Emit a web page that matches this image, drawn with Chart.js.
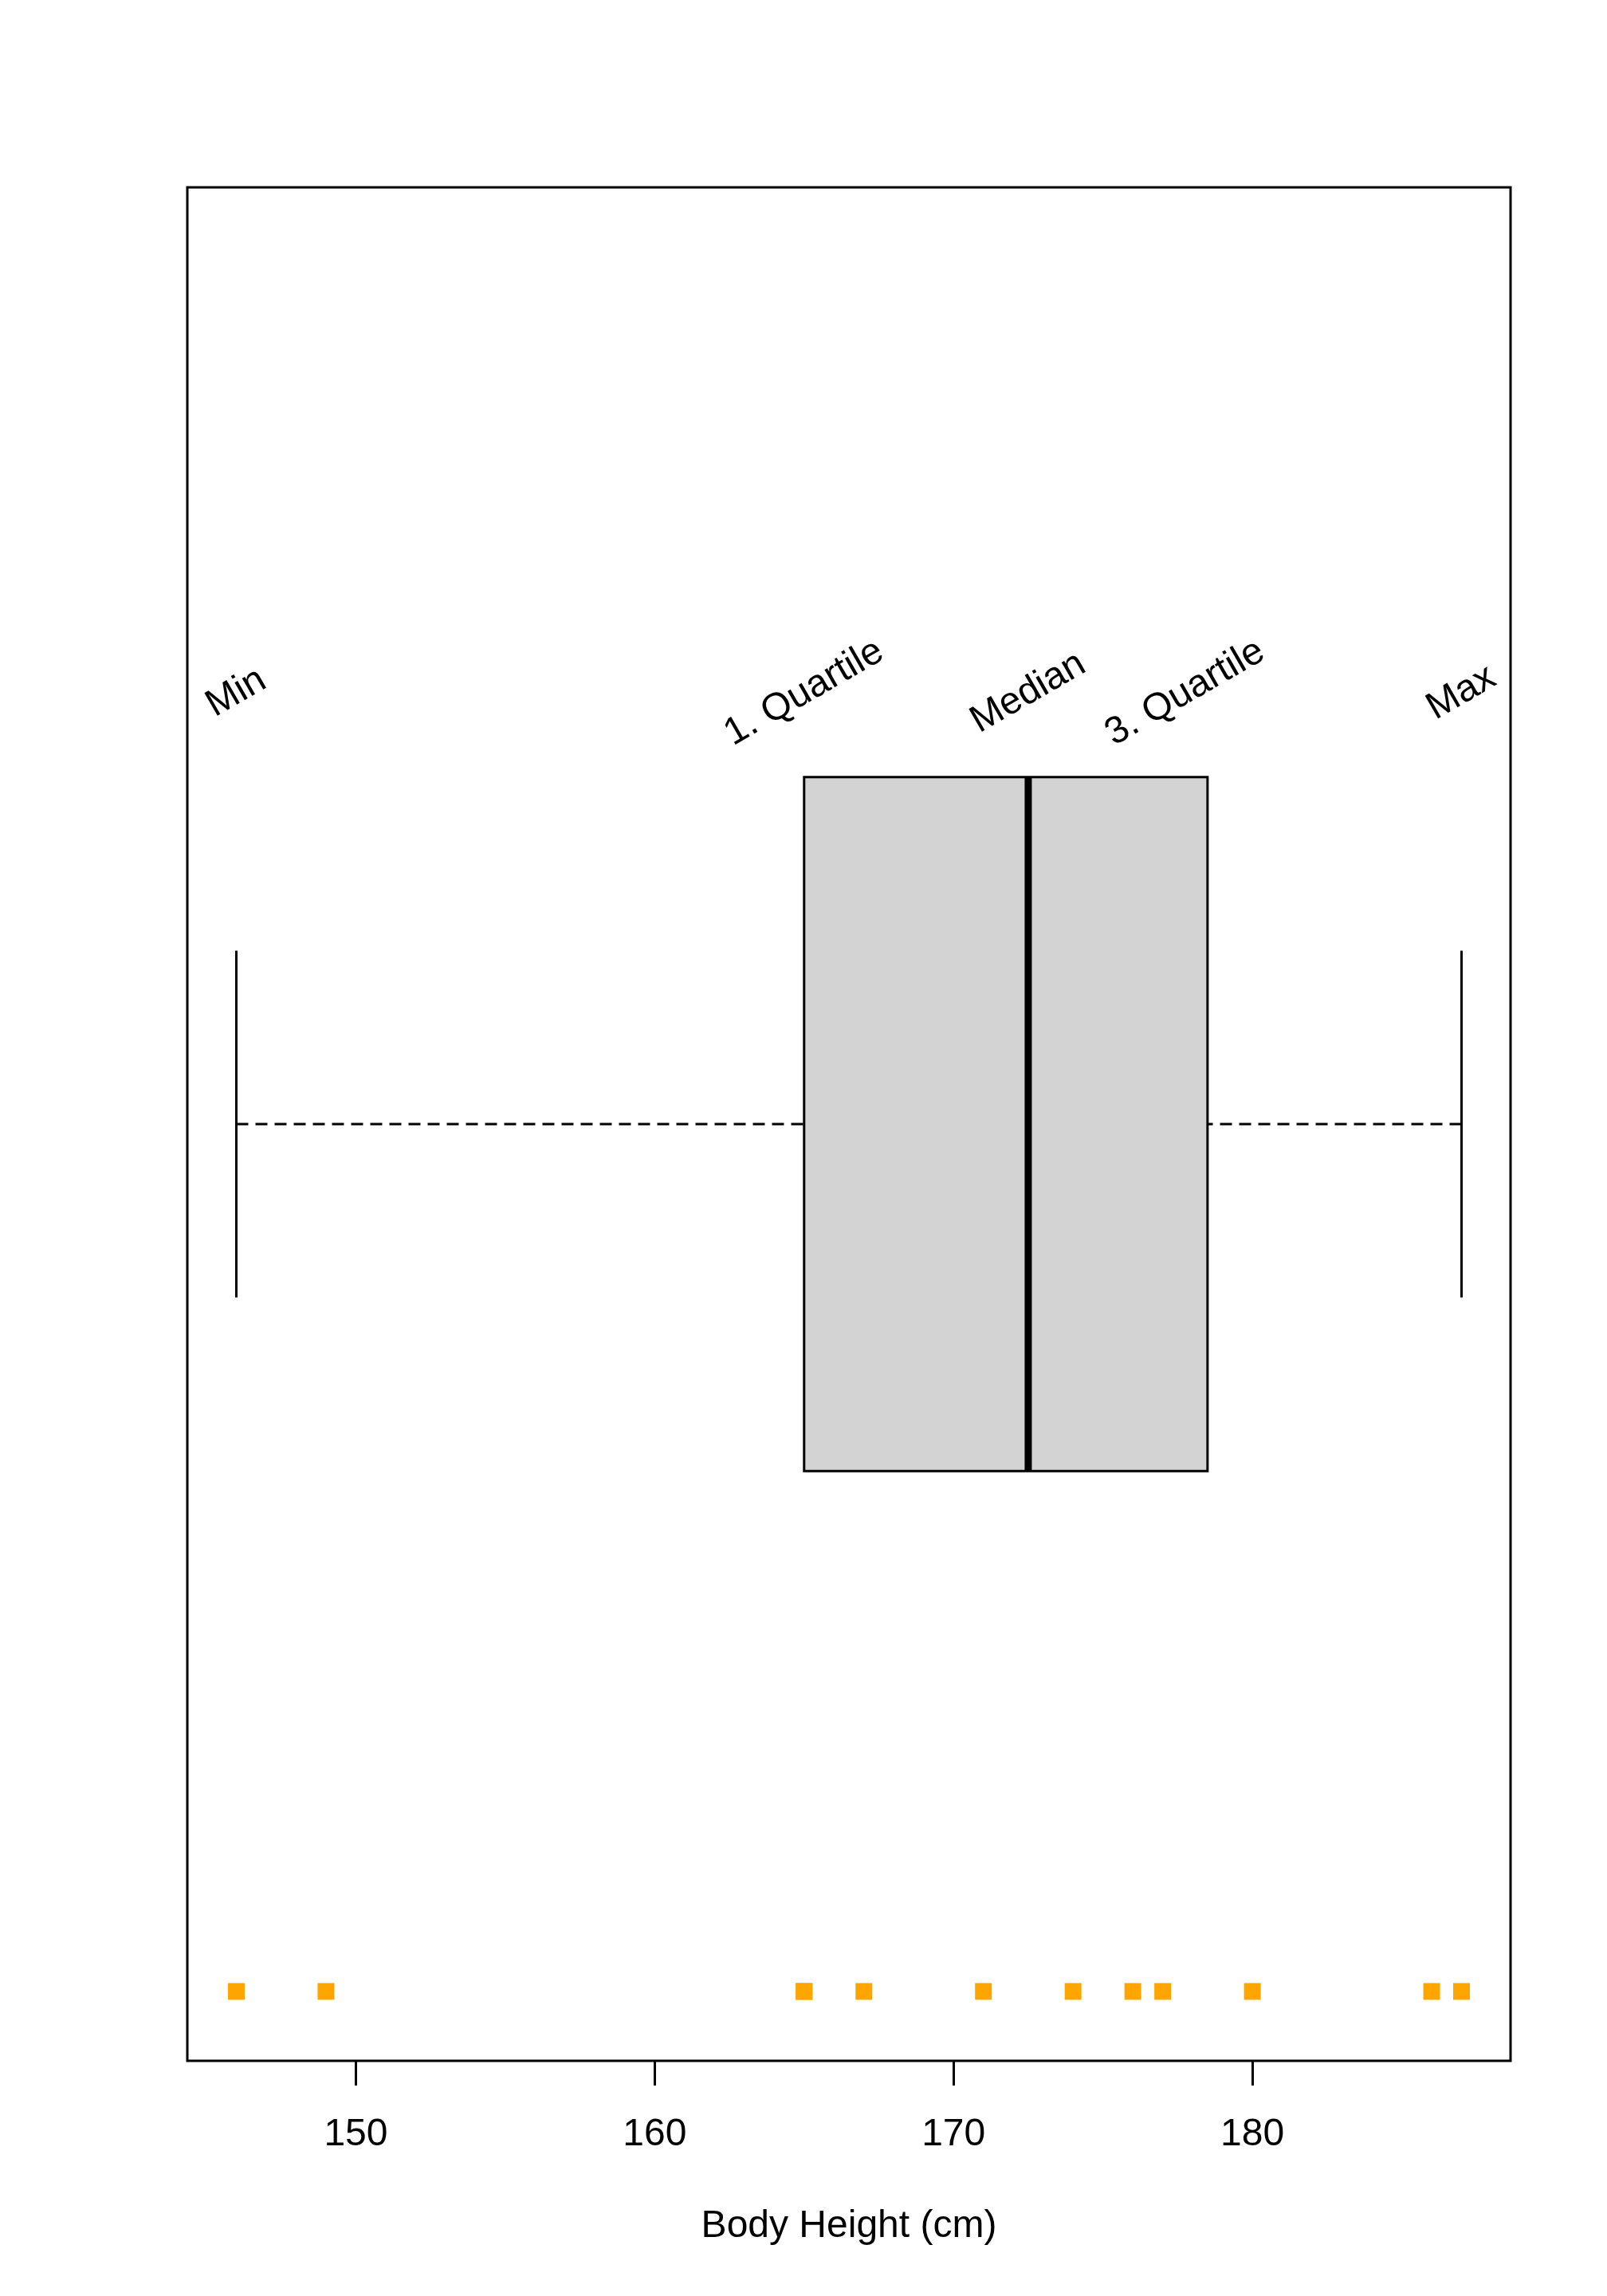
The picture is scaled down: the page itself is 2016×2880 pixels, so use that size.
<!DOCTYPE html>
<html><head><meta charset="utf-8">
<script src="https://cdn.jsdelivr.net/npm/chart.js@4/dist/chart.umd.min.js"></script>
<style>html,body{margin:0;padding:0;background:#fff}canvas{display:block}</style>
</head><body>
<canvas id="c" width="2016" height="2880" style="width:2016px;height:2880px"></canvas>
<script>
// ---- data ----
const heights = [146, 149, 165, 165, 167, 171, 174, 176, 177, 180, 186, 187];
const boxValues = [146, 165, 172.5, 178.5, 187]; // min, lower hinge, median, upper hinge, max
const statNames = ['Min', '1. Quartile', 'Median', '3. Quartile', 'Max'];
const statLabelValues = [146, 165, 172.5, 177.75, 187];
const xTicks = [150, 160, 170, 180];
const xTitle = 'Body Height (cm)';

// ---- layout constants (positions on the value axis) ----
const BOX_Y = 1, BOX_HALF = 0.4, CAP_HALF = 0.2, STRIP_Y = 0, LABEL_Y = 1.5;
const FONT = "'Liberation Sans', Arial, Helvetica, sans-serif";

const lineDs = (data, extra) => Object.assign({
  data, showLine: true, pointRadius: 0, borderColor: '#000', borderWidth: 3,
  borderCapStyle: 'butt', fill: false, tension: 0
}, extra);

const datasets = [
  { data: heights.map(v => ({ x: v, y: STRIP_Y })), pointStyle: 'rect', pointRadius: 14.85,
    backgroundColor: '#FFA500', borderWidth: 0, order: 0 },
  lineDs([{ x: boxValues[2], y: BOX_Y - BOX_HALF }, { x: boxValues[2], y: BOX_Y + BOX_HALF }],
    { borderWidth: 9, order: 1 }),
  lineDs([{ x: boxValues[1], y: BOX_Y - BOX_HALF }, { x: boxValues[3], y: BOX_Y - BOX_HALF },
          { x: boxValues[3], y: BOX_Y + BOX_HALF }, { x: boxValues[1], y: BOX_Y + BOX_HALF },
          { x: boxValues[1], y: BOX_Y - BOX_HALF }],
    { fill: 'shape', backgroundColor: '#D3D3D3', borderCapStyle: 'square', borderJoinStyle: 'miter', order: 2 }),
  lineDs([{ x: boxValues[0], y: BOX_Y }, { x: boxValues[1], y: BOX_Y }], { borderDash: [15, 9], order: 3 }),
  lineDs([{ x: boxValues[4], y: BOX_Y }, { x: boxValues[3], y: BOX_Y }], { borderDash: [15, 9], order: 3 }),
  lineDs([{ x: boxValues[0], y: BOX_Y - CAP_HALF }, { x: boxValues[0], y: BOX_Y + CAP_HALF }], { order: 3 }),
  lineDs([{ x: boxValues[4], y: BOX_Y - CAP_HALF }, { x: boxValues[4], y: BOX_Y + CAP_HALF }], { order: 3 })
];

const frame = {
  id: 'frame',
  afterDraw(chart) {
    const { ctx, chartArea: a } = chart;
    ctx.save();
    ctx.strokeStyle = '#000';
    ctx.lineWidth = 3;
    ctx.strokeRect(a.left, a.top, a.right - a.left, a.bottom - a.top);
    ctx.restore();
  }
};

const statLabels = {
  id: 'statLabels',
  afterDatasetsDraw(chart) {
    const { ctx, scales } = chart;
    ctx.save();
    ctx.fillStyle = '#000';
    ctx.font = '48px ' + FONT;
    ctx.textAlign = 'center';
    ctx.textBaseline = 'middle';
    statNames.forEach((name, i) => {
      const px = scales.x.getPixelForValue(statLabelValues[i]);
      const py = scales.y.getPixelForValue(LABEL_Y) + 3;
      ctx.save();
      ctx.translate(px, py);
      ctx.rotate(-Math.PI / 6);
      ctx.fillText(name, 0, 0);
      ctx.restore();
    });
    ctx.restore();
  }
};

new Chart(document.getElementById('c'), {
  type: 'scatter',
  data: { datasets },
  plugins: [frame, statLabels],
  options: {
    responsive: false,
    devicePixelRatio: 1,
    animation: false,
    layout: { padding: { left: 235, right: 121, top: 235, bottom: 58 } },
    plugins: { legend: { display: false }, tooltip: { enabled: false } },
    scales: {
      x: {
        type: 'linear', min: 144.36, max: 188.64,
        afterBuildTicks: s => { s.ticks = xTicks.map(v => ({ value: v })); },
        afterFit: s => { s.height = 237; },
        grid: { display: true, drawOnChartArea: false, drawTicks: true, tickLength: 31,
                tickWidth: 3, tickColor: '#000', color: '#000', lineWidth: 3 },
        border: { display: false },
        ticks: { padding: 33, color: '#000', font: { family: FONT, size: 48 },
                 maxRotation: 0, autoSkip: false },
        title: { display: true, text: xTitle, color: '#000',
                 font: { family: FONT, size: 48 }, padding: { top: 0, bottom: 0 } }
      },
      y: { type: 'linear', min: -0.08, max: 2.08, display: false }
    }
  }
});
</script>
</body></html>
